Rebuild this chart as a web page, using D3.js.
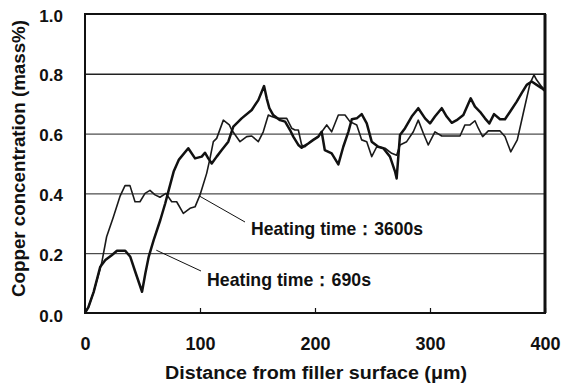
<!DOCTYPE html>
<html>
<head>
<meta charset="utf-8">
<script src="https://cdn.jsdelivr.net/npm/d3@7"></script>
<style>
  html, body { margin: 0; padding: 0; background: #fff; }
  svg { display: block; }
  text { font-family: "Liberation Sans", Arial, sans-serif; font-weight: bold; fill: #111; }
</style>
</head>
<body>
<svg id="chart" width="561" height="385"></svg>
<script>
// ---- data ----
const xTicks = [0, 100, 200, 300, 400];
const yTicks = [0.0, 0.2, 0.4, 0.6, 0.8, 1.0];
const gridValues = [0.2, 0.4, 0.6, 0.8];

// Heating time 3600 s (thin line)
const dist3600 = [0,3,7.5,14.5,18.8, 24.6,30.4,34.8,39.1,43.5, 47.8,52.2,56.5,60.9,65.2,
  70.4,75.4,79.7,85.5,91.3, 95.7,100,105.8,108.7,111.6, 114.5,120.3,125.5,127.6,134.8,
  140.6,145,150.7,155,159.4, 162.3,166.7,175.4,179.7,182.6, 185.5,188.4,191.3,194.2,198.5,
  202.9,210.2,214.5,220.3,226.1, 230.4,236.3,240.6,245,249.3, 253.7,260.9,266.7,271,273.9,
  279.7,285.5,289.8,294.2,298.5, 304.3,310.2,317.4,326.1,330.4, 334.8,339.1,342,345.8,350.7,
  360.9,365.2,370.2,375.9,381.1, 387,390.4,392.8,397.1,400];
const conc3600 = [0,0.02,0.07,0.167,0.255, 0.32,0.39,0.426,0.426,0.372, 0.372,0.40,0.41,0.395,0.387,
  0.40,0.372,0.372,0.333,0.35, 0.355,0.395,0.467,0.517,0.573, 0.584,0.645,0.629,0.612,0.573,
  0.59,0.592,0.573,0.606,0.662, 0.657,0.651,0.651,0.618,0.612, 0.612,0.562,0.556,0.567,0.579,
  0.59,0.629,0.606,0.662,0.662, 0.64,0.629,0.579,0.573,0.523, 0.556,0.551,0.534,0.528,0.562,
  0.573,0.606,0.645,0.601,0.562, 0.606,0.592,0.592,0.592,0.629, 0.629,0.643,0.618,0.59,0.609,
  0.609,0.59,0.539,0.579,0.668, 0.768,0.796,0.779,0.757,0.746];

// Heating time 690 s (thick line)
const dist690 = [0,3,7.5,13.3,17.7, 23.5,27.8,35,39.4,43.7, 49.6,52.5,55.4,59.7,65.5,
  69.8,72.8,77.1,81.5,89.8, 95.7,101.5,104.3,107.2,110.2, 114.5,118.9,124.6,129,136.2,
  145,150.7,155.7,158,160.3, 163.7,169.6,174,178.3,181.1, 185.5,188.4,194.2,198.5,202.9,
  205.8,208.5,214.5,220.3,224.6, 229,232,236.3,240.6,245, 249.3,255,259.4,265.2,269.6,
  271,273.9,278.3,284.1,289.8, 295.7,300,304.3,310.2,314.5, 318.9,323.2,329,335.4,339.1,
  343.5,347.8,351.6,355.7,360.9, 365.2,369.6,375.4,379.7,384.1, 388.4,392.8,397.1,400];
const conc690 = [0,0.02,0.07,0.155,0.177, 0.194,0.208,0.208,0.188,0.138, 0.071,0.133,0.188,0.244,0.311,
  0.367,0.411,0.473,0.512,0.551, 0.517,0.523,0.536,0.517,0.50, 0.523,0.545,0.573,0.623,0.651,
  0.679,0.712,0.759,0.718,0.685, 0.662,0.645,0.64,0.612,0.59, 0.562,0.553,0.567,0.579,0.59,
  0.606,0.545,0.534,0.497,0.556, 0.606,0.648,0.651,0.665,0.634, 0.573,0.556,0.551,0.523,0.473,
  0.45,0.595,0.618,0.657,0.685, 0.651,0.634,0.657,0.685,0.657, 0.636,0.645,0.662,0.718,0.69,
  0.673,0.651,0.634,0.665,0.648, 0.648,0.673,0.707,0.735,0.763, 0.774,0.763,0.752,0.743];

const xTitle = "Distance from filler surface (\u03BCm)";
const yTitle = "Copper concentration (mass%)";
const label3600 = "Heating time\uFF1A3600s";
const label690 = "Heating time\uFF1A690s";

// ---- layout ----
const svg = d3.select("#chart");
const L = 85, R = 545, T = 14, B = 313;
const x = d3.scaleLinear().domain([0, 400]).range([L, R]);
const y = d3.scaleLinear().domain([0, 1]).range([B, T]);

// gridlines
svg.append("g")
  .attr("transform", `translate(${L},0)`)
  .call(d3.axisLeft(y).tickValues(gridValues).tickSize(-(R - L)).tickFormat(""))
  .call(g => g.select(".domain").remove())
  .call(g => g.selectAll("line").attr("stroke", "#222")
      .attr("stroke-width", d => d === 0.8 ? 1.4 : 1));

// x axis ticks + labels
svg.append("g")
  .attr("transform", `translate(0,${B})`)
  .call(d3.axisBottom(x).tickValues(xTicks).tickSize(-5).tickFormat(d3.format("d")))
  .call(g => g.select(".domain").remove())
  .call(g => g.selectAll("line").attr("stroke", "#111").attr("stroke-width", 1.2))
  .call(g => g.selectAll("text").attr("y", 37).attr("dy", 0)
      .style("font-size", "18px").attr("fill", "#111"));

// y axis labels
svg.append("g")
  .attr("transform", `translate(${L},0)`)
  .call(d3.axisLeft(y).tickValues(yTicks).tickSize(0).tickPadding(22).tickFormat(d3.format(".1f")))
  .call(g => g.select(".domain").remove())
  .call(g => g.selectAll("text").attr("dy", d => d === 0 ? "0.5em" : "0.42em")
      .style("font-size", "17px").attr("fill", "#111"));

// lines
const line = d3.line().x(d => x(d[0])).y(d => y(d[1]));
const s3600 = dist3600.map((d, i) => [d, conc3600[i]]);
const s690 = dist690.map((d, i) => [d, conc690[i]]);

svg.append("path").datum(s3600).attr("d", line)
  .attr("fill", "none").attr("stroke", "#1a1a1a").attr("stroke-width", 1.6)
  .attr("stroke-linejoin", "round");
svg.append("path").datum(s690).attr("d", line)
  .attr("fill", "none").attr("stroke", "#111").attr("stroke-width", 2.5)
  .attr("stroke-linejoin", "round");

// frame
svg.append("rect").attr("x", L).attr("y", T).attr("width", R - L).attr("height", B - T)
  .attr("fill", "none").attr("stroke", "#111").attr("stroke-width", 2);
svg.append("line").attr("x1", R).attr("x2", R).attr("y1", T).attr("y2", B)
  .attr("stroke", "#111").attr("stroke-width", 3);

// annotations (leader lines point at the curves)
svg.append("line")
  .attr("x1", x(100)).attr("y1", y(0.39)).attr("x2", 245).attr("y2", 222)
  .attr("stroke", "#111").attr("stroke-width", 1);
svg.append("text").attr("x", 251).attr("y", 235).text(label3600)
  .style("font-size", "18.5px").attr("textLength", 172).attr("lengthAdjust", "spacingAndGlyphs");

svg.append("line")
  .attr("x1", x(62)).attr("y1", y(0.21)).attr("x2", 201).attr("y2", 271)
  .attr("stroke", "#111").attr("stroke-width", 1);
svg.append("text").attr("x", 207).attr("y", 286).text(label690)
  .style("font-size", "18.5px").attr("textLength", 164).attr("lengthAdjust", "spacingAndGlyphs");

// axis titles
svg.append("text").attr("x", 165).attr("y", 379).text(xTitle)
  .style("font-size", "18px").attr("textLength", 302).attr("lengthAdjust", "spacingAndGlyphs");

svg.append("text").attr("transform", "translate(25,297) rotate(-90)").text(yTitle)
  .style("font-size", "18px").attr("textLength", 277).attr("lengthAdjust", "spacingAndGlyphs");
</script>
</body>
</html>
